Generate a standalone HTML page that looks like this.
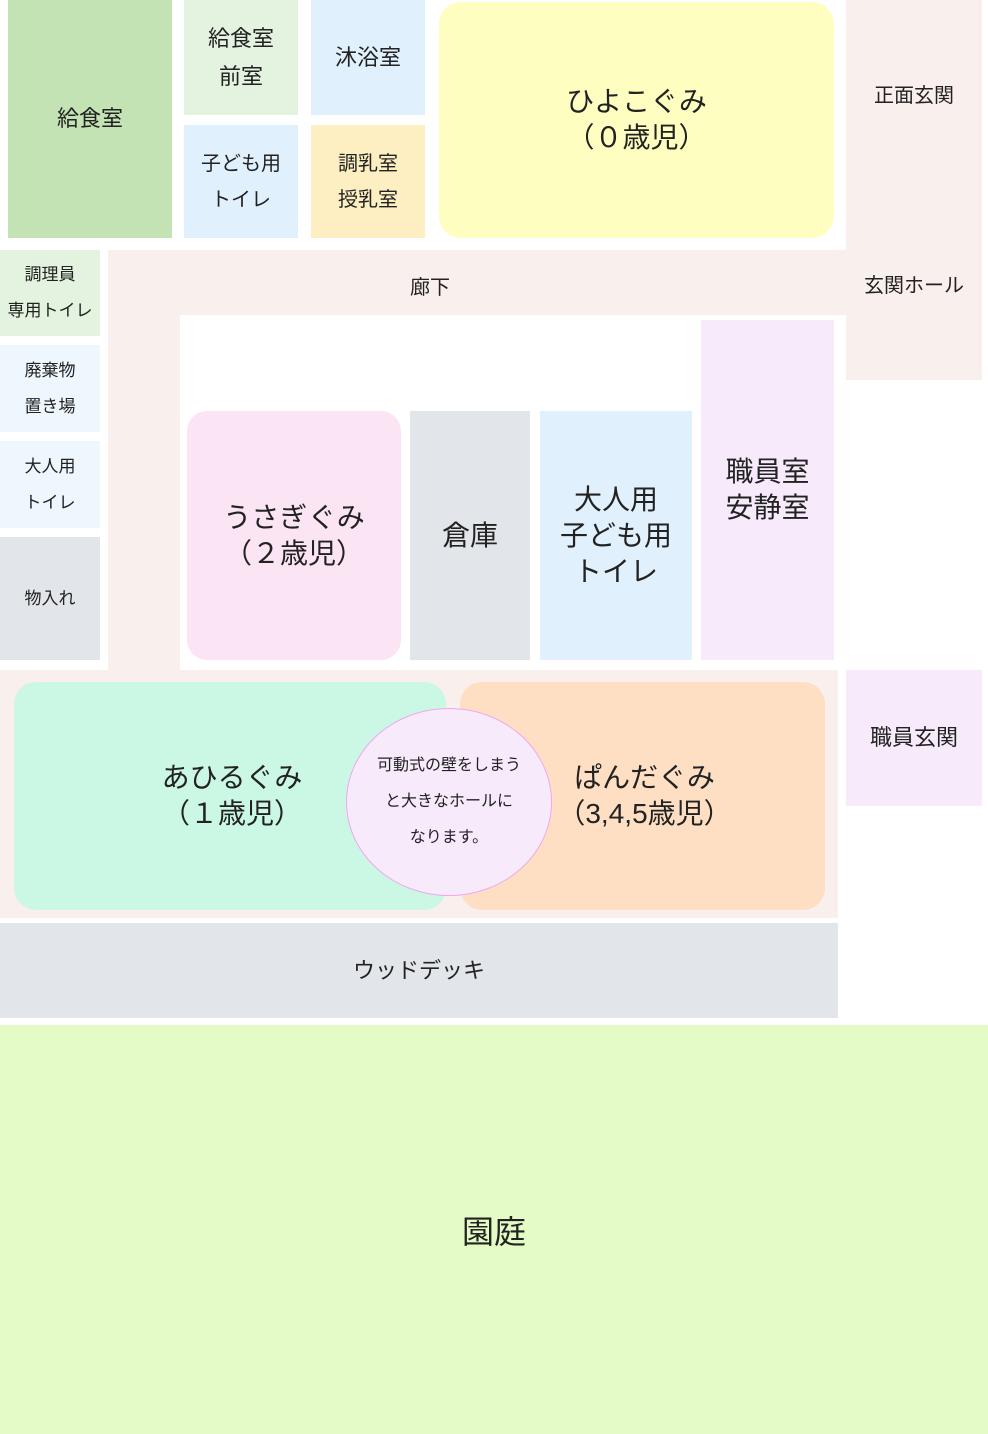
<!DOCTYPE html>
<html><head><meta charset="utf-8"><style>
body{margin:0;width:988px;height:1434px;position:relative;background:#fff;font-family:"Liberation Sans","Noto Sans CJK JP",sans-serif;color:#222;overflow:hidden}
.b{position:absolute;display:flex;align-items:center;justify-content:center;text-align:center;box-sizing:border-box}
.s{font-size:18px;line-height:36px}
.m{font-size:22px;line-height:38px}
.l{font-size:28px;line-height:36px}
</style></head><body>
<div class="b m" style="left:8px;top:0;width:164px;height:238px;background:#c4e3b5">給食室</div>
<div class="b m" style="left:184px;top:0;width:114px;height:115px;background:#e3f3df">給食室<br>前室</div>
<div class="b m" style="left:311px;top:0;width:114px;height:115px;background:#e1f0fd">沐浴室</div>
<div class="b s" style="left:184px;top:125px;width:114px;height:113px;background:#e1f0fd;font-size:20px">子ども用<br>トイレ</div>
<div class="b s" style="left:311px;top:125px;width:114px;height:113px;background:#fdefc2;font-size:20px">調乳室<br>授乳室</div>
<div class="b l" style="left:439px;top:2px;width:395px;height:236px;background:#fefec0;border-radius:22px">ひよこぐみ<br>（０歳児）</div>
<div class="b" style="left:846px;top:0;width:136px;height:380px;background:#f9efec"></div>
<div class="b s" style="left:846px;top:78px;width:136px;height:36px;font-size:20px">正面玄関</div>
<div class="b s" style="left:846px;top:268px;width:136px;height:36px;font-size:20px">玄関ホール</div>
<div class="b" style="left:108px;top:250px;width:738px;height:65px;background:#f9efec"></div>
<div class="b" style="left:380px;top:250px;width:100px;height:70px;font-size:20px">廊下</div>
<div class="b" style="left:108px;top:250px;width:72px;height:420px;background:#f9efec"></div>
<div class="b s" style="left:0;top:250px;width:100px;height:86px;background:#e3f3df;font-size:17px">調理員<br>専用トイレ</div>
<div class="b s" style="left:0;top:345px;width:100px;height:87px;background:#eef7fe;font-size:17px">廃棄物<br>置き場</div>
<div class="b s" style="left:0;top:441px;width:100px;height:87px;background:#eef7fe;font-size:17px">大人用<br>トイレ</div>
<div class="b s" style="left:0;top:537px;width:100px;height:123px;background:#e2e5e9;font-size:17px">物入れ</div>
<div class="b l" style="left:187px;top:411px;width:214px;height:249px;background:#fbe4f4;border-radius:20px">うさぎぐみ<br>（２歳児）</div>
<div class="b l" style="left:410px;top:411px;width:120px;height:249px;background:#e2e5e9">倉庫</div>
<div class="b l" style="left:540px;top:411px;width:152px;height:249px;background:#e1f0fd">大人用<br>子ども用<br>トイレ</div>
<div class="b l" style="left:701px;top:320px;width:133px;height:340px;background:#f6eafb">職員室<br>安静室</div>
<div class="b" style="left:0;top:670px;width:838px;height:248px;background:#f9efec"></div>
<div class="b l" style="left:14px;top:682px;width:432px;height:228px;background:#cbf7e5;border-radius:22px">
<span style="position:relative;left:2px">あひるぐみ<br>（１歳児）</span></div>
<div class="b l" style="left:460px;top:682px;width:365px;height:228px;background:#fedfc3;border-radius:22px"><span style="position:relative;left:2px">ぱんだぐみ<br>（3,4,5歳児）</span></div>
<div class="b" style="left:346px;top:708px;width:206px;height:188px;background:#f6eafb;border:1px solid #f0a8f0;border-radius:50%;font-size:16px;line-height:36px">可動式の壁をしまう<br>と大きなホールに<br>なります。</div>
<div class="b m" style="left:846px;top:670px;width:136px;height:136px;background:#f6eafb">職員玄関</div>
<div class="b m" style="left:0;top:923px;width:838px;height:95px;background:#e2e5e9">ウッドデッキ</div>
<div class="b" style="left:0;top:1025px;width:988px;height:409px;background:#e4fbc6;font-size:32px">園庭</div>
</body></html>
